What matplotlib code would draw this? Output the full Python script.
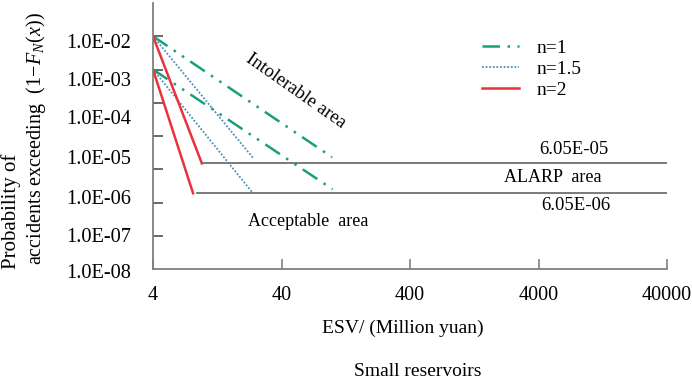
import numpy as np
import matplotlib.pyplot as plt

plt.rcParams['font.family'] = ['Liberation Serif', 'DejaVu Serif']
plt.rcParams['mathtext.fontset'] = 'custom'
plt.rcParams['mathtext.rm'] = 'Liberation Serif'
plt.rcParams['mathtext.it'] = 'Liberation Serif:italic'

# data (ESV in million yuan, probability)
x_start = 4
p_high = 1e-2
p_low = 1e-3
# end points of each sloped line: (x_end, p_end) for upper / lower curve
n1_end = [(99, 2.3e-6), (100, 2.5e-7)]
n15_end = [(24, 2.2e-6), (24, 1.9e-7)]
n2_end = [(9.6, 1.5e-6), (8.2, 1.9e-7)]
# horizontal limit lines
limit_hi = 1.5e-6
limit_lo = 1.9e-7
limit_hi_x = [9.6, 40000]
limit_lo_x = [8.8, 40000]

xticks = [4, 40, 400, 4000, 40000]
xtick_labels = ['4', '40', '400', '4000', '40000']
ytick_vals = [1e-2, 1e-3, 1e-4, 1e-5, 1e-6, 1e-7, 1e-8]
ytick_labels = ['1.0E-02', '1.0E-03', '1.0E-04', '1.0E-05', '1.0E-06', '1.0E-07', '1.0E-08']
ylabel_px = [43, 82, 120, 160, 199, 238, 273]   # where the labels sit in the picture

W, H = 692, 381
def px(x, y):
    return x / W, 1 - y / H

fig = plt.figure(figsize=(W / 100, H / 100), dpi=100)
ax = fig.add_axes([153 / W, 1 - 269 / H, 514 / W, 266 / H])
ax.set_xscale('log')
ax.set_yscale('log')
ax.set_xlim(4, 40000)
ax.set_ylim(1e-9, 1e-1)

green = '#1a9f78'
blue = '#4b8fb5'
red = '#e8323c'
gray = '#707070'

for i, (xe, pe) in enumerate(n1_end):
    ax.plot([x_start, xe], [[p_high, p_low][i], pe], color=green, lw=1.8,
            dashes=(7, 3, 1, 3, 1, 3), label='n=1' if i == 0 else None)
for i, (xe, pe) in enumerate(n15_end):
    ax.plot([x_start, xe], [[p_high, p_low][i], pe], color=blue, lw=1.3,
            dashes=(1, 1), label='n=1.5' if i == 0 else None)
for i, (xe, pe) in enumerate(n2_end):
    ax.plot([x_start, xe], [[p_high, p_low][i], pe], color=red, lw=1.8,
            label='n=2' if i == 0 else None)

ax.plot(limit_hi_x, [limit_hi, limit_hi], color=gray, lw=1.3)
ax.plot(limit_lo_x, [limit_lo, limit_lo], color=gray, lw=1.3)

for s in ['top', 'right']:
    ax.spines[s].set_visible(False)
for s in ['left', 'bottom']:
    ax.spines[s].set_color('#808080')
    ax.spines[s].set_linewidth(1.3)

ax.set_xticks(xticks)
ax.set_xticklabels(xtick_labels, fontsize=14.5)
ax.xaxis.set_minor_locator(plt.NullLocator())
ax.tick_params(axis='x', direction='in', length=7, width=1.2, color='#808080', pad=12)
ax.set_yticks(ytick_vals)
ax.set_yticklabels([])
ax.yaxis.set_minor_locator(plt.NullLocator())
ax.tick_params(axis='y', direction='in', length=7, width=1.2, color='#505050')

for lab, yp in zip(ytick_labels, ylabel_px):
    fig.text(*px(131, yp), lab, ha='right', va='center', fontsize=14.7)

leg = ax.legend(loc='upper left', bbox_to_anchor=(0.606, 0.93), frameon=False,
                fontsize=14, handlelength=1.9, handletextpad=0.9, labelspacing=0.18)

fig.text(*px(296, 91), 'Intolerable area', rotation=-35, ha='center', va='center', fontsize=13.5)
fig.text(*px(553, 178), 'ALARP  area', ha='center', va='center', fontsize=13)
fig.text(*px(574, 150), '6.05E-05', ha='center', va='center', fontsize=13.5)
fig.text(*px(576, 205), '6.05E-06', ha='center', va='center', fontsize=13.5)
fig.text(*px(308, 222), 'Acceptable  area', ha='center', va='center', fontsize=13)

fig.text(*px(11, 211), 'Probability of', rotation=90, ha='center', va='center', fontsize=15)
fig.text(*px(36, 139), r'accidents exceeding  $(1\!-\!F_N(x))$', rotation=90,
         ha='center', va='center', fontsize=14.5)
fig.text(*px(403, 328), 'ESV/ (Million yuan)', ha='center', va='center', fontsize=14)
fig.text(*px(418, 371), 'Small reservoirs', ha='center', va='center', fontsize=14)

fig.savefig('out.png', dpi=100)
